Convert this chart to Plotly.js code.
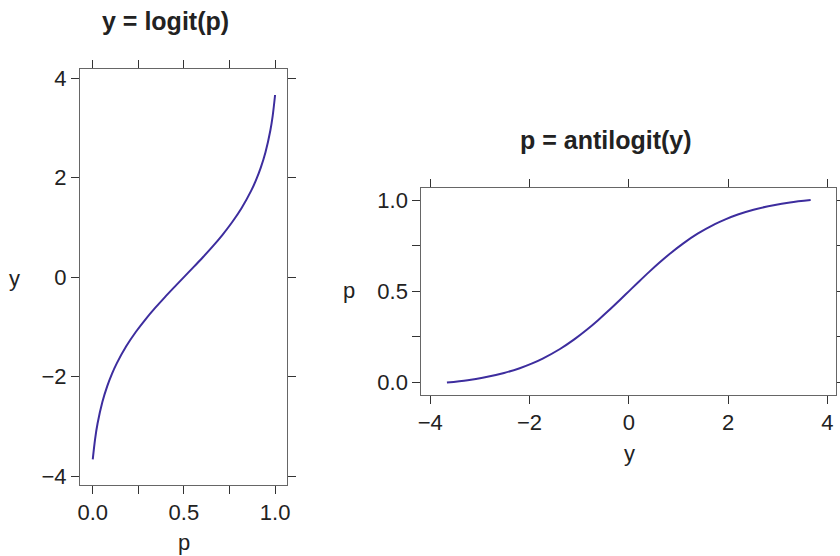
<!DOCTYPE html>
<html>
<head>
<meta charset="utf-8">
<script src="https://cdn.plot.ly/plotly-3.0.1.min.js"></script>
<style>html,body{margin:0;padding:0;background:#fff;}#chart{width:840px;height:556px;}</style>
</head>
<body>
<div id="chart"></div>
<script>
// probability values p (running from 0 to 1) and the matching logit values y
const pValues = [0, 0.01316, 0.02632, 0.05263, 0.07895, 0.10526, 0.13158, 0.18421, 0.23684, 0.28947, 0.34211, 0.39474, 0.44737, 0.5,
                 0.55263, 0.60526, 0.65789, 0.71053, 0.76316, 0.81579, 0.86842, 0.89474, 0.92105, 0.94737, 0.97368, 0.98684, 1];
const yValues = [-3.6636, -3.2452, -2.9444, -2.5123, -2.1972, -1.9459, -1.7346, -1.3863, -1.0986, -0.8473, -0.6190, -0.4055, -0.2007, 0,
                 0.2007, 0.4055, 0.6190, 0.8473, 1.0986, 1.3863, 1.7346, 1.9459, 2.1972, 2.5123, 2.9444, 3.2452, 3.6636];

const pTickVals = [0, 0.25, 0.5, 0.75, 1];
const pTickText = ['0.0', '', '0.5', '', '1.0'];
const yTickVals = [-4, -2, 0, 2, 4];
const yTickText = ['\u22124', '\u22122', '0', '2', '4'];

const lineColor = '#3d2d9e';
const W = 840, H = 556;
const fx = px => px / W;
const fy = py => 1 - py / H;

const traces = [
  {x: pValues, y: yValues, xaxis: 'x', yaxis: 'y', type: 'scatter', mode: 'lines',
   line: {color: lineColor, width: 2, shape: 'spline'}, hoverinfo: 'skip'},
  {x: yValues, y: pValues, xaxis: 'x2', yaxis: 'y2', type: 'scatter', mode: 'lines',
   line: {color: lineColor, width: 2, shape: 'spline'}, hoverinfo: 'skip'}
];

const fam = 'Liberation Sans, Arial, Helvetica, sans-serif';
const axBase = {
  showline: true, linecolor: '#666', linewidth: 1, mirror: 'allticks',
  ticks: 'outside', ticklen: 8, tickwidth: 1, tickcolor: '#333',
  showgrid: false, zeroline: false, tickmode: 'array',
  tickfont: {family: fam, size: 22, color: '#222'}
};

const layout = {
  width: W, height: H,
  margin: {l: 0, r: 0, t: 0, b: 0},
  paper_bgcolor: '#fff', plot_bgcolor: '#fff',
  showlegend: false,
  font: {family: fam, color: '#222'},
  xaxis: Object.assign({}, axBase, {domain: [fx(80), fx(287.3)], range: [-0.07, 1.067],
    tickvals: pTickVals, ticktext: pTickText, anchor: 'y'}),
  yaxis: Object.assign({}, axBase, {domain: [fy(485), fy(69.3)], range: [-4.18, 4.18],
    tickvals: yTickVals, ticktext: yTickText, anchor: 'x'}),
  xaxis2: Object.assign({}, axBase, {domain: [fx(421.3), fx(836.3)], range: [-4.18, 4.18],
    tickvals: yTickVals, ticktext: yTickText, anchor: 'y2'}),
  yaxis2: Object.assign({}, axBase, {domain: [fy(395), fy(187.7)], range: [-0.068, 1.068],
    tickvals: pTickVals, ticktext: pTickText, anchor: 'x2'}),
  annotations: [
    {text: '<b>y = logit(p)</b>', xref: 'paper', yref: 'paper', x: fx(165), y: fy(21),
     xanchor: 'center', yanchor: 'middle', showarrow: false, font: {size: 25, color: '#222'}},
    {text: '<b>p = antilogit(y)</b>', xref: 'paper', yref: 'paper', x: fx(606), y: fy(140),
     xanchor: 'center', yanchor: 'middle', showarrow: false, font: {size: 25, color: '#222'}},
    {text: 'y', xref: 'paper', yref: 'paper', x: fx(14), y: fy(278),
     xanchor: 'center', yanchor: 'middle', showarrow: false, font: {size: 22, color: '#222'}},
    {text: 'p', xref: 'paper', yref: 'paper', x: fx(184), y: fy(542),
     xanchor: 'center', yanchor: 'middle', showarrow: false, font: {size: 22, color: '#222'}},
    {text: 'p', xref: 'paper', yref: 'paper', x: fx(349), y: fy(290),
     xanchor: 'center', yanchor: 'middle', showarrow: false, font: {size: 22, color: '#222'}},
    {text: 'y', xref: 'paper', yref: 'paper', x: fx(629), y: fy(453),
     xanchor: 'center', yanchor: 'middle', showarrow: false, font: {size: 22, color: '#222'}}
  ]
};

Plotly.newPlot('chart', traces, layout, {staticPlot: true, displayModeBar: false});
</script>
</body>
</html>
